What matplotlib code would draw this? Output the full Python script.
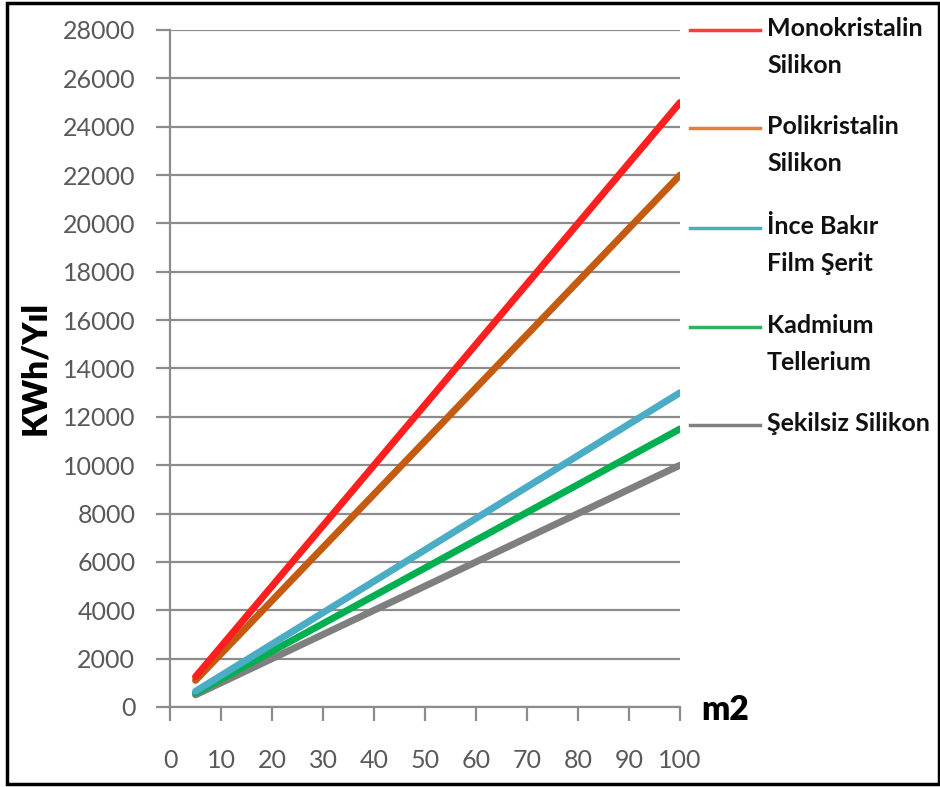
import matplotlib.pyplot as plt
from matplotlib.patches import Rectangle

# alan (m2) ve yıllık üretim (kWh/yıl)
area = [5, 10, 20, 30, 40, 50, 60, 70, 80, 90, 100]
mono = [1250, 2500, 5000, 7500, 10000, 12500, 15000, 17500, 20000, 22500, 25000]
poly = [1100, 2200, 4400, 6600, 8800, 11000, 13200, 15400, 17600, 19800, 22000]
ince = [650, 1300, 2600, 3900, 5200, 6500, 7800, 9100, 10400, 11700, 13000]
kadm = [575, 1150, 2300, 3450, 4600, 5750, 6900, 8050, 9200, 10350, 11500]
sekil = [500, 1000, 2000, 3000, 4000, 5000, 6000, 7000, 8000, 9000, 10000]

names = ['Monokristalin\nSilikon', 'Polikristalin\nSilikon', 'İnce Bakır\nFilm Şerit',
         'Kadmium\nTellerium', 'Şekilsiz Silikon']
colors = ['#ff1f1f', '#c55a11', '#4bacc6', '#00b050', '#7f7f7f']
legend_colors = ['#ff3b3b', '#e3803a', '#4bacc6', '#2cb35c', '#808080']

plt.rcParams['font.family'] = ['Lato', 'DejaVu Sans']

fig = plt.figure(figsize=(9.4, 7.87), dpi=100)
ax = fig.add_axes([170 / 940, 1 - 707 / 787, 510 / 940, 677 / 787])

series = [mono, poly, ince, kadm, sekil]
# draw back to front so the top series sit on top
for vals, c in zip(series[::-1], colors[::-1]):
    ax.plot(area, vals, color=c, lw=5, solid_capstyle='round', zorder=3)

ax.set_xlim(0, 100)
ax.set_ylim(0, 28000)
ax.set_xticks(range(0, 101, 10))
ax.set_yticks(range(0, 28001, 2000))
ax.grid(axis='y', color='#8c8c8c', lw=1.6)
ax.set_axisbelow(True)
for s in ['top', 'right']:
    ax.spines[s].set_visible(False)
for s in ['left', 'bottom']:
    ax.spines[s].set_color('#8c8c8c')
    ax.spines[s].set_linewidth(1.6)
ax.tick_params(colors='#8c8c8c', width=1.6, length=10, labelcolor='#595959', labelsize=18)
ax.tick_params(axis='x', pad=20)
ax.tick_params(axis='y', pad=15)

fig.text(35 / 940, 1 - 368 / 787, 'KWh/Yıl', rotation=90, fontsize=24, fontweight='heavy',
         ha='center', va='center')
fig.text(725 / 940, 1 - 710 / 787, 'm2', fontsize=24, fontweight='heavy', ha='center', va='center')

# legend drawn by hand on the right side
leg_y = [30, 128, 228, 327, 425]
for y, n, c in zip(leg_y, names, legend_colors):
    fig.add_artist(plt.Line2D([690 / 940, 760 / 940], [1 - y / 787] * 2, color=c, lw=2.5))
    fig.text(767 / 940, 1 - (y - 13) / 787, n, fontsize=18, fontweight='bold', ha='left',
             va='top', linespacing=1.75, color='#111111')

fig.add_artist(Rectangle((7 / 940, 1 - 784 / 787), 932 / 940, 781 / 787, fill=False,
                         edgecolor='black', lw=2.5, transform=fig.transFigure))

fig.savefig('out.png', dpi=100)
